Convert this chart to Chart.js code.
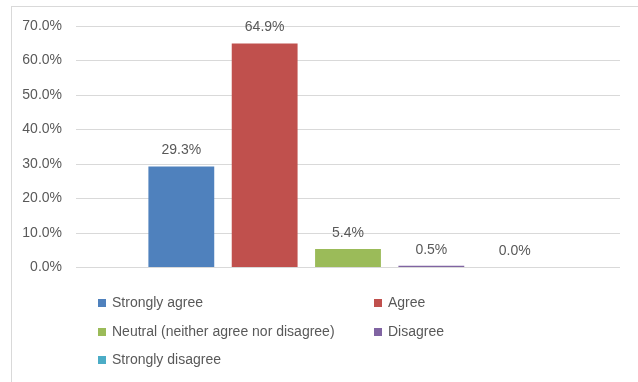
<!DOCTYPE html>
<html>
<head>
<meta charset="utf-8">
<script src="https://cdn.jsdelivr.net/npm/chart.js@4"></script>
<style>
  html, body { margin: 0; padding: 0; background: #fff; }
  body { width: 638px; height: 382px; position: relative; overflow: hidden; font-family: 'Liberation Sans', Arial, sans-serif; }
  #frame { position: absolute; left: 11px; top: 6px; width: 640px; height: 400px; border: 1px solid #d9d9d9; box-sizing: border-box; }
  #chart { position: absolute; left: 0; top: 0; }
  #legend { position: absolute; left: 98px; top: 288px; display: grid; grid-template-columns: 276px 200px; }
  .item { height: 28.5px; line-height: 28.5px; font-size: 14px; color: #595959; white-space: nowrap; }
  .item i { display: inline-block; width: 8px; height: 8px; margin-right: 6px; vertical-align: 0px; }
</style>
</head>
<body>
<div id="frame"></div>
<canvas id="chart" width="638" height="290"></canvas>
<div id="legend"></div>
<script>
  const LABELS = ['Strongly agree', 'Agree', 'Neutral (neither agree nor disagree)', 'Disagree', 'Strongly disagree'];
  const VALUES = [29.3, 64.9, 5.4, 0.5, 0.0];
  const COLORS = ['#4f81bd', '#c0504d', '#9bbb59', '#8064a2', '#4bacc6'];
  const TEXT = '#595959';
  const GRID = '#d9d9d9';

  Chart.defaults.font.family = "'Liberation Sans', Arial, sans-serif";
  Chart.defaults.font.size = 14;
  Chart.defaults.color = TEXT;

  // value labels above each bar
  const valueLabels = {
    id: 'valueLabels',
    afterDatasetsDraw(chart) {
      const ctx = chart.ctx;
      ctx.save();
      ctx.font = "14px 'Liberation Sans', Arial, sans-serif";
      ctx.fillStyle = TEXT;
      ctx.textAlign = 'center';
      ctx.textBaseline = 'middle';
      chart.data.datasets.forEach((ds, i) => {
        const bar = chart.getDatasetMeta(i).data[0];
        ctx.fillText(ds.data[0].toFixed(1) + '%', bar.x, bar.y - 16);
      });
      ctx.restore();
    },
  };

  new Chart(document.getElementById('chart'), {
    type: 'bar',
    data: {
      labels: [''],
      datasets: LABELS.map((l, i) => ({
        label: l,
        data: [VALUES[i]],
        backgroundColor: COLORS[i],
        borderWidth: 0,
        categoryPercentage: 0.766,
        barPercentage: 0.79,
      })),
    },
    options: {
      responsive: false,
      animation: false,
      layout: { padding: { top: 26, right: 18, bottom: 21, left: 0 } },
      plugins: { legend: { display: false }, tooltip: { enabled: false } },
      scales: {
        x: { display: false },
        y: {
          min: 0,
          max: 70,
          border: { display: false },
          grid: { color: GRID, drawTicks: false },
          ticks: {
            stepSize: 10,
            padding: 14,
            callback: v => v.toFixed(1) + '%',
          },
          afterFit: scale => { scale.width = 76; },
        },
      },
    },
    plugins: [valueLabels],
  });

  const legend = document.getElementById('legend');
  LABELS.forEach((l, i) => {
    const d = document.createElement('div');
    d.className = 'item';
    d.innerHTML = `<i style="background:${COLORS[i]}"></i>${l}`;
    legend.appendChild(d);
  });
</script>
</body>
</html>
